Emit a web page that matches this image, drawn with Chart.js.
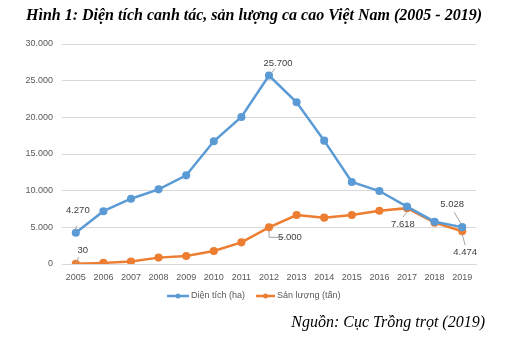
<!DOCTYPE html>
<html>
<head>
<meta charset="utf-8">
<script src="https://cdn.jsdelivr.net/npm/chart.js@4"></script>
<style>
  html, body { margin: 0; padding: 0; background: #fff; }
  #wrap { position: relative; width: 528px; height: 344px; overflow: hidden; }
  #title { position: absolute; left: 26px; top: 6px; font: italic bold 16px "Liberation Serif", "Times New Roman", serif; color: #000; white-space: nowrap; }
  #source { position: absolute; right: 43px; top: 313px; font: italic 16px "Liberation Serif", "Times New Roman", serif; color: #000; white-space: nowrap; }
  canvas { position: absolute; left: 0; top: 0; }
</style>
</head>
<body>
<div id="wrap">
  <canvas id="c" width="528" height="344"></canvas>
  <div id="title">Hình 1: Diện tích canh tác, sản lượng ca cao Việt Nam (2005 - 2019)</div>
  <div id="source">Nguồn: Cục Trồng trọt (2019)</div>
</div>
<script>
const years = ['2005','2006','2007','2008','2009','2010','2011','2012','2013','2014','2015','2016','2017','2018','2019'];
const dienTich = [4270, 7200, 8900, 10180, 12090, 16730, 20050, 25700, 22050, 16820, 11180, 9950, 7820, 5770, 5028];
const sanLuong = [30, 150, 350, 870, 1100, 1770, 2950, 5000, 6680, 6320, 6680, 7270, 7618, 5640, 4474];
const seriesNames = ['Diện tích (ha)', 'Sản lượng (tấn)'];
const yTicks = [0, 5000, 10000, 15000, 20000, 25000, 30000];

const BLUE = '#5b9bd5', ORANGE = '#ed7d31';
const fmt = v => String(v).replace(/\B(?=(\d{3})+(?!\d))/g, '.');

// label annotations: [datasetIndex, index, dx, dy, leader]
const annots = [
  [0, 0, 2, -22, [[1,-7],[-1,-2]]],
  [1, 0, 7, -13, [[3,-7],[0,-1]]],
  [0, 7, 9, -12, [[6,-7],[2,-2]]],
  [1, 7, 21, 10, [[0,3],[0,10],[15,10]]],
  [1, 12, -4, 16, [[0,4],[-4,9]]],
  [0, 14, -10, -23, [[-8,-15],[-1,-3]]],
  [1, 14, 3, 21, [[0,3],[3,14]]]
];

const labelPlugin = {
  id: 'labels',
  afterDatasetsDraw(chart) {
    const ctx = chart.ctx;
    ctx.save();
    ctx.font = '9.5px "Liberation Sans", Arial, sans-serif';
    ctx.fillStyle = '#404040';
    ctx.textAlign = 'center';
    ctx.textBaseline = 'middle';
    annots.forEach(([ds, i, dx, dy, leader]) => {
      const pt = chart.getDatasetMeta(ds).data[i];
      const v = chart.data.datasets[ds].data[i];
      ctx.strokeStyle = '#a6a6a6';
      ctx.lineWidth = 1;
      ctx.beginPath();
      leader.forEach(([lx, ly], k) => {
        if (k === 0) ctx.moveTo(pt.x + lx, pt.y + ly); else ctx.lineTo(pt.x + lx, pt.y + ly);
      });
      ctx.stroke();
      ctx.fillText(fmt(v), pt.x + dx, pt.y + dy);
    });
    // legend
    const items = [[167, 189, 191, BLUE, seriesNames[0]], [256, 275, 277, ORANGE, seriesNames[1]]];
    const ly = 296;
    ctx.font = '9px "Liberation Sans", Arial, sans-serif';
    ctx.textAlign = 'left';
    items.forEach(([x1, x2, tx, col, name]) => {
      ctx.strokeStyle = col;
      ctx.lineWidth = 2.5;
      ctx.beginPath(); ctx.moveTo(x1, ly); ctx.lineTo(x2, ly); ctx.stroke();
      ctx.fillStyle = col;
      ctx.beginPath(); ctx.arc((x1 + x2) / 2, ly, 2.5, 0, Math.PI * 2); ctx.fill();
      ctx.fillStyle = '#595959';
      ctx.fillText(name, tx, ly);
    });
    ctx.restore();
  }
};

new Chart(document.getElementById('c'), {
  type: 'line',
  data: {
    labels: years,
    datasets: [
      { label: seriesNames[0], data: dienTich, borderColor: BLUE, backgroundColor: BLUE, borderWidth: 2.5, pointRadius: 2.8, pointBackgroundColor: BLUE, tension: 0 },
      { label: seriesNames[1], data: sanLuong, borderColor: ORANGE, backgroundColor: ORANGE, borderWidth: 2.5, pointRadius: 2.8, pointBackgroundColor: ORANGE, tension: 0 }
    ]
  },
  options: {
    responsive: false,
    animation: false,
    devicePixelRatio: 1,
    layout: { padding: { left: 0, right: 52, top: 44, bottom: 58 } },
    plugins: { legend: { display: false }, title: { display: false }, tooltip: { enabled: false } },
    scales: {
      x: {
        offset: true,
        grid: { display: false, drawTicks: false },
        border: { display: true, color: '#d9d9d9' },
        ticks: { color: '#595959', font: { size: 9, family: '"Liberation Sans", Arial, sans-serif' }, padding: 8, maxRotation: 0, autoSkip: false },
        afterFit: s => { s.height = 22; }
      },
      y: {
        min: 0, max: 30000,
        afterBuildTicks: s => { s.ticks = yTicks.map(v => ({ value: v })); },
        grid: { color: '#d9d9d9', drawTicks: false },
        border: { display: false },
        ticks: { color: '#595959', font: { size: 9, family: '"Liberation Sans", Arial, sans-serif' }, padding: 9, callback: v => fmt(v) },
        afterFit: s => { s.width = 62; }
      }
    }
  },
  plugins: [labelPlugin]
});
</script>
</body>
</html>
